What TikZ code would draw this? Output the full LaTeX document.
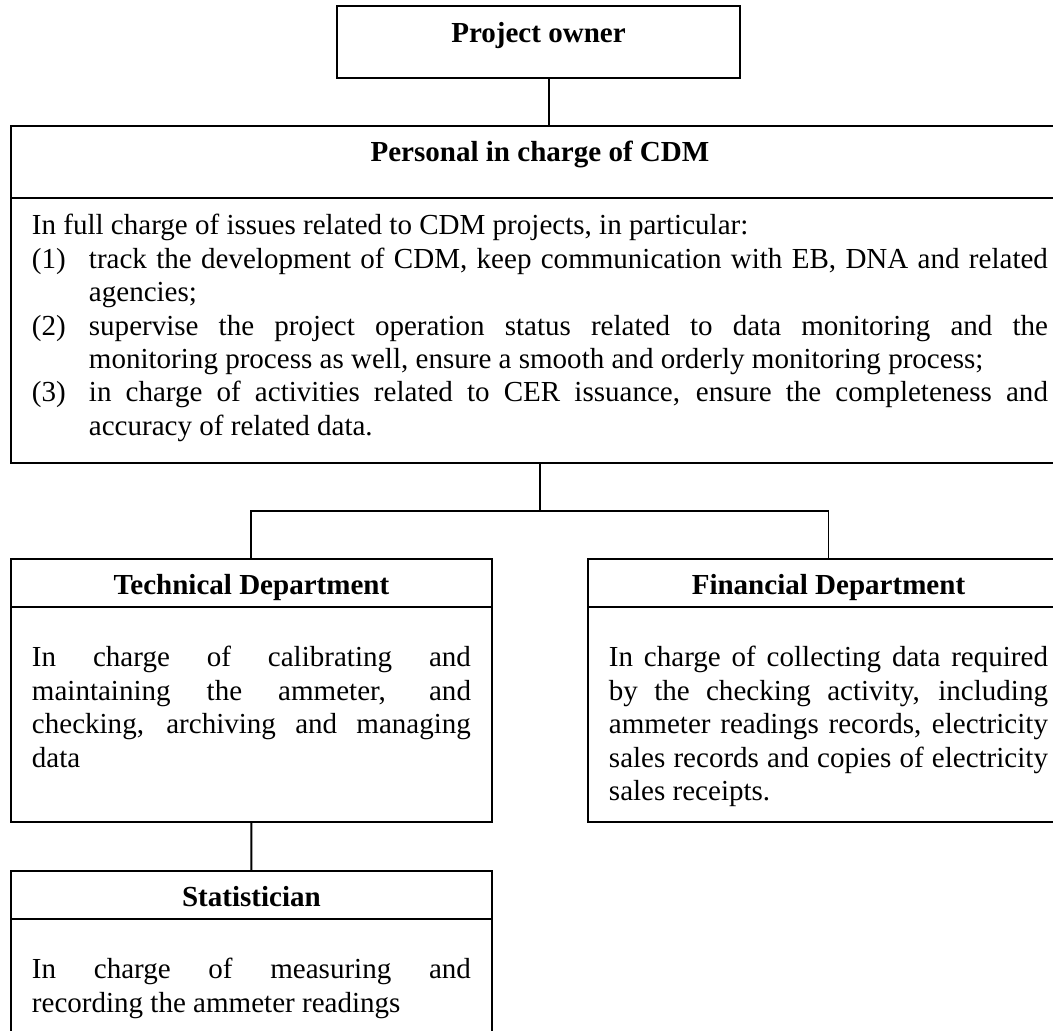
\documentclass[tikz,border=0pt]{standalone}
\usepackage{fontspec}
\setmainfont{Liberation Serif}
\usetikzlibrary{calc}
\hyphenpenalty=10000
\tolerance=10000

\begin{document}
\begin{tikzpicture}[line width=0.8pt]
\tikzstyle{head}=[draw,anchor=north west,inner sep=0pt,minimum width=6.986cm,text height=0.523cm,text depth=0.174cm,font=\fontsize{12}{13.8}\selectfont\bfseries]
\tikzstyle{body}=[draw,anchor=north west,inner xsep=0.305cm,inner ysep=0pt,text width=6.376cm,text height=0.871cm,align=justify,font=\fontsize{12}{13.8}\selectfont]
\useasboundingbox (0,0) rectangle (15.293,-14.973);
\node[head,minimum width=5.853cm,text depth=0.523cm] (owner) at (4.880,-0.073) {Project owner};
\node[head,minimum width=15.365cm,text depth=0.523cm] (cdm) at (0.145,-1.815) {Personal in charge of CDM};
\node[body,text width=14.755cm,text height=0.537cm,text depth=3.312cm] (cdm_txt) at (0.145,-2.861) {In full charge of issues related to CDM projects, in particular:\par
\hangindent=23.55pt\hangafter=1\makebox[23.55pt][l]{(1)}track the development of CDM, keep communication with EB, DNA and related\linebreak agencies;\par
\hangindent=23.55pt\hangafter=1\makebox[23.55pt][l]{(2)}supervise the project operation status related to data monitoring and the\linebreak monitoring process as well, ensure a smooth and orderly monitoring process;\par
\hangindent=23.55pt\hangafter=1\makebox[23.55pt][l]{(3)}in charge of activities related to CER issuance, ensure the completeness and\linebreak accuracy of related data.\par};
\node[head] (tech) at (0.145,-8.104) {Technical Department};
\node[body,text depth=2.251cm] (tech_txt) at (0.145,-8.801) {In charge of calibrating and\linebreak maintaining the ammeter, and\linebreak checking, archiving and managing\linebreak data};
\node[head] (fin) at (8.525,-8.104) {Financial Department};
\node[body,text depth=2.251cm] (fin_txt) at (8.525,-8.801) {In charge of collecting data required\linebreak by the checking activity, including\linebreak ammeter readings records, electricity\linebreak sales records and copies of electricity\linebreak sales receipts.};
\node[head] (stat) at (0.145,-12.635) {Statistician};
\node[body,text depth=1.351cm] (stat_txt) at (0.145,-13.332) {In charge of measuring and\linebreak recording the ammeter readings};
\coordinate (split) at ($(cdm_txt.south)!0.5!(cdm_txt.south |- tech.north)$);
\draw ([xshift=0.15cm]owner.south) -- ([xshift=0.15cm]owner.south |- cdm.north);
\draw (cdm_txt.south) -- (split);
\draw (tech.north) |- (split) -| (fin.north);
\draw (tech_txt.south) -- (stat.north);
\end{tikzpicture}
\end{document}
